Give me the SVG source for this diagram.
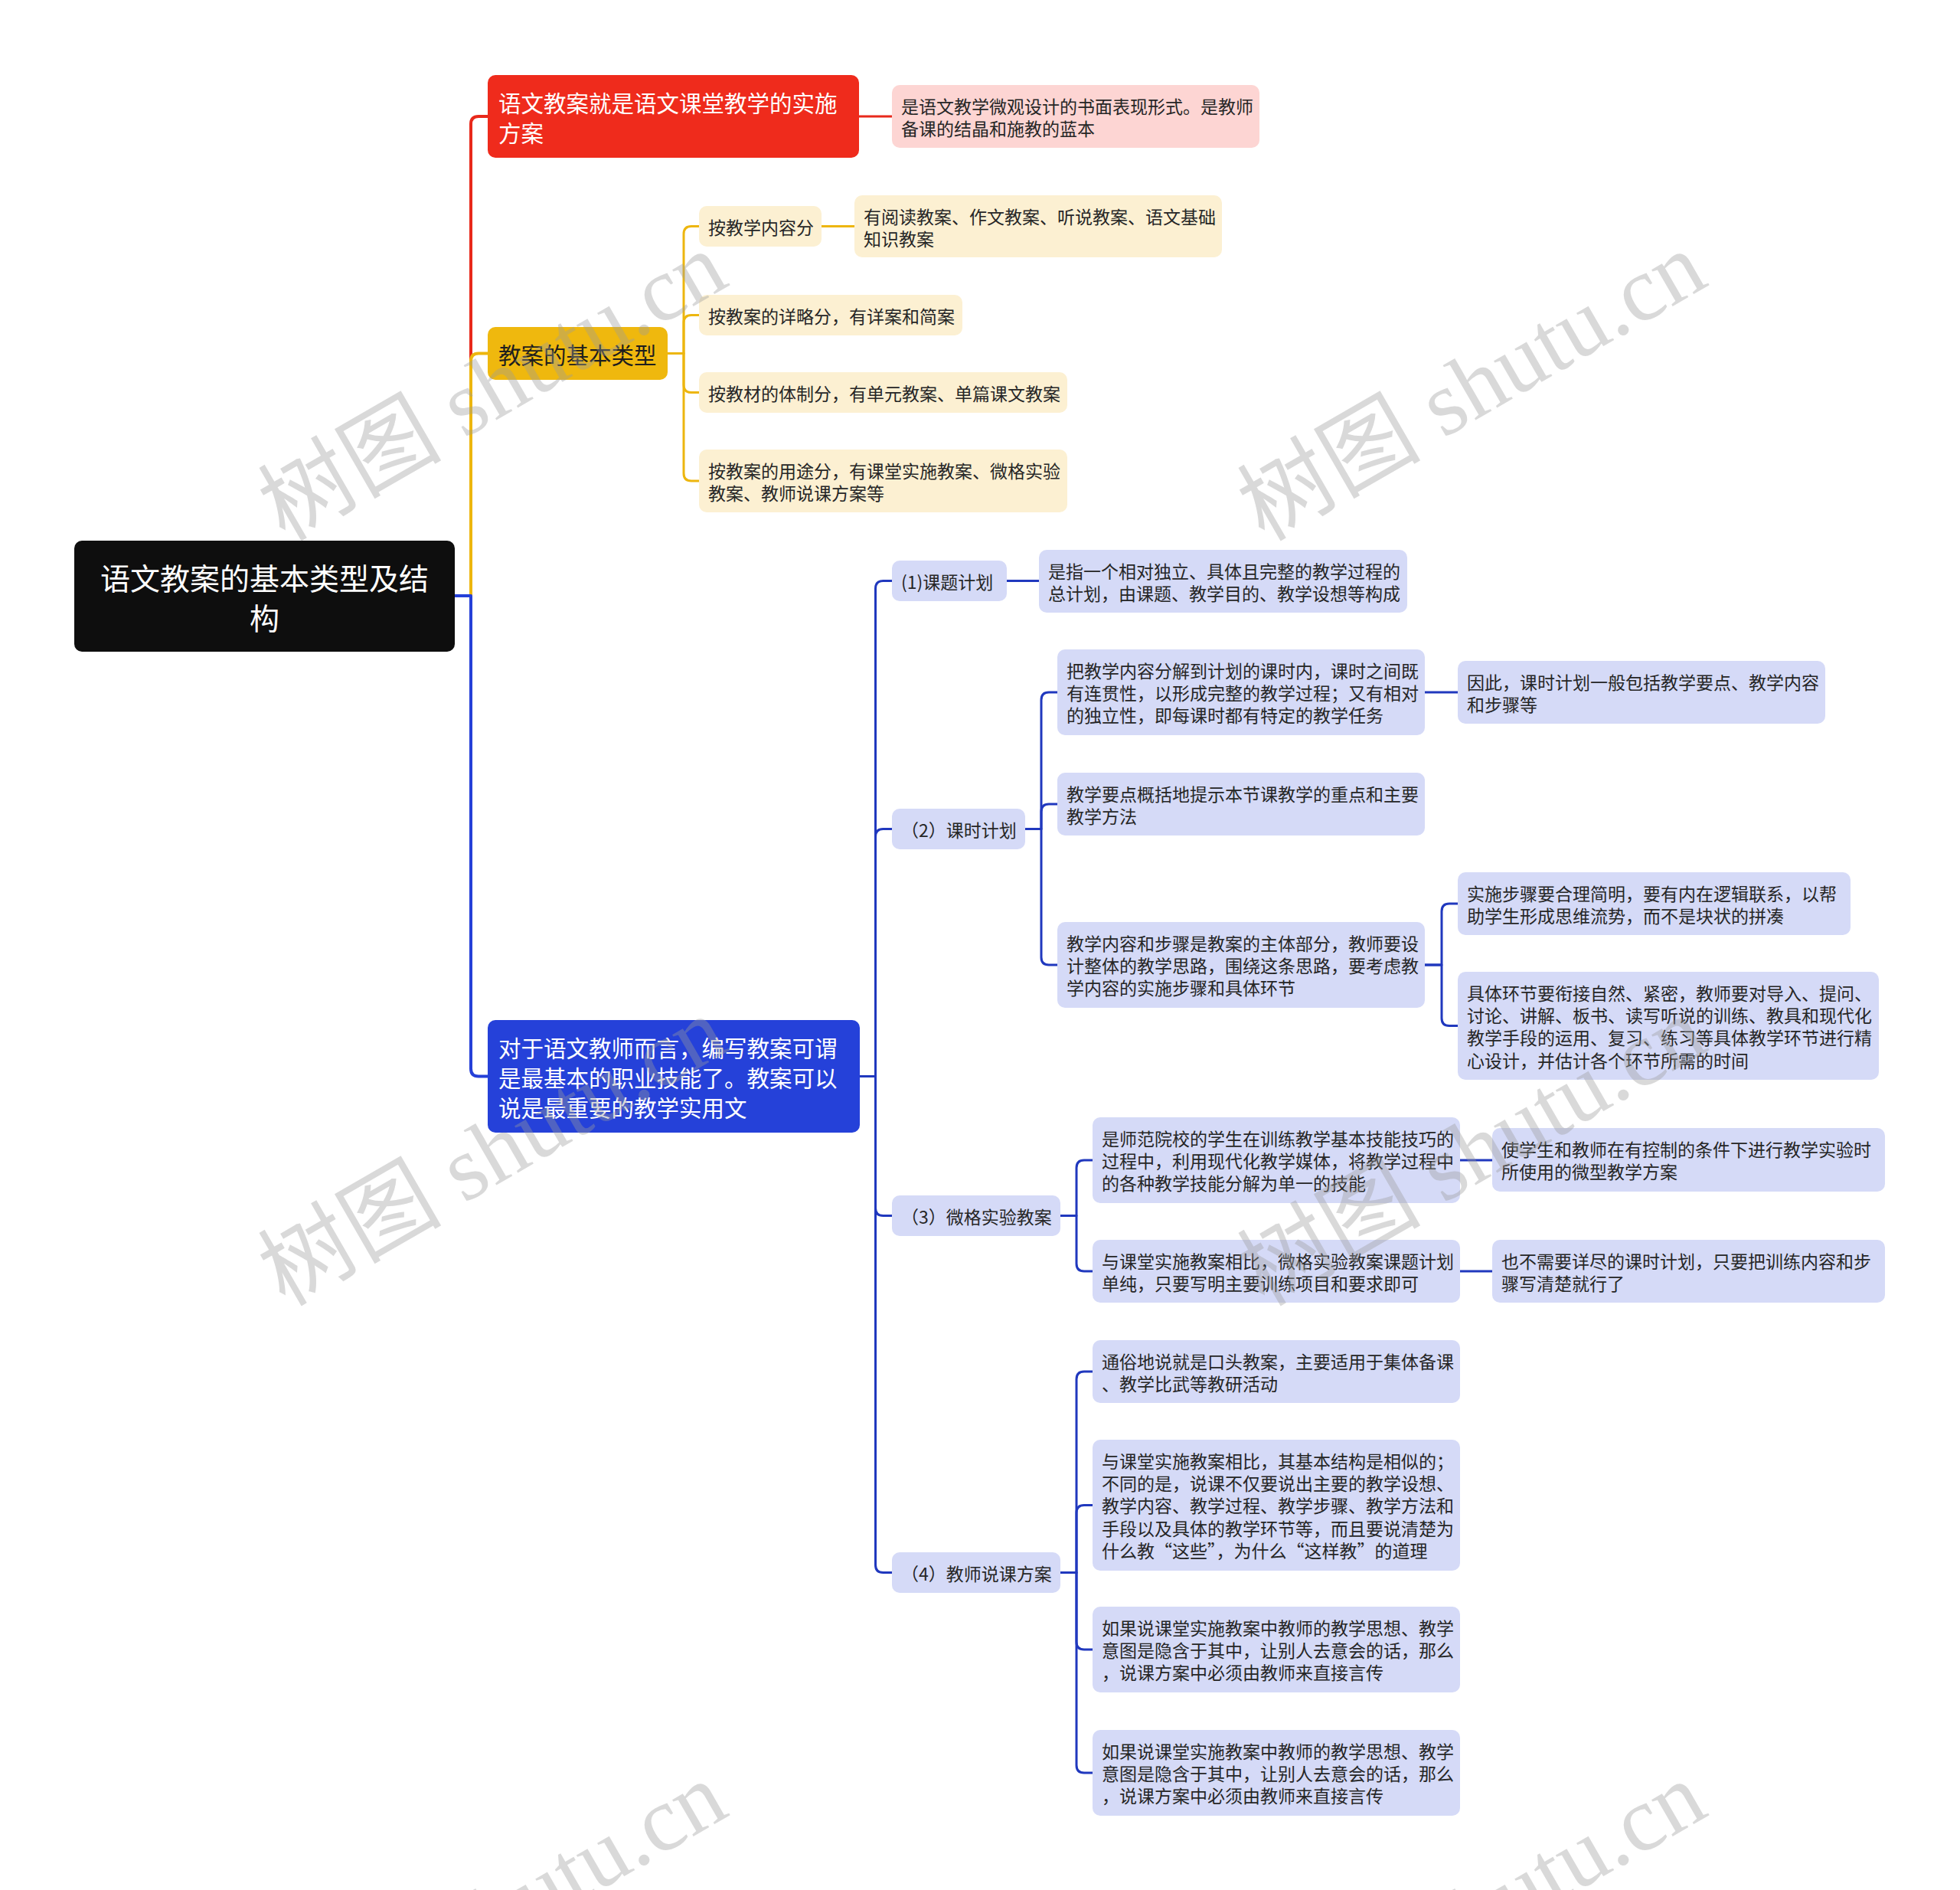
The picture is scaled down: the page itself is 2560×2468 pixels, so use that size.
<svg xmlns="http://www.w3.org/2000/svg" width="2560" height="2468" viewBox="0 0 2560 2468">
<style>
.t{font-family:"Noto Sans CJK SC","Noto Sans",sans-serif;font-size:23px;fill:#262626;dominant-baseline:central}
.t1{font-family:"Noto Sans CJK SC","Noto Sans",sans-serif;font-size:29.5px;dominant-baseline:central}
.w{fill:#ffffff}
.d{fill:#1e1e1e}
.root{font-family:"Noto Sans CJK SC","Noto Sans",sans-serif;font-size:39px;fill:#ffffff;text-anchor:middle;dominant-baseline:central}
.lb{fill:#D5DAF7}
.ly{fill:#FCF0D2}
.c{fill:none;stroke-linejoin:round}
.cr{stroke:#E8291B;stroke-width:4}
.cy{stroke:#EDB60E;stroke-width:3}
.cb{stroke:#2540D8;stroke-width:4}
.cb2{stroke:#2038BE;stroke-width:3}
.wm{font-family:"Liberation Serif","Noto Sans CJK SC",serif;font-size:120px;fill:#9a9a9a;fill-opacity:0.38}
</style>
<rect width="2560" height="2468" fill="#ffffff"/>
<g id="connectors">
<path class="c cr" d="M594,778 H615 V162 Q615,152 625,152 H637"/>
<path class="c cy" style="stroke-width:4" d="M594,778 H615 V471.5 Q615,461.5 625,461.5 H637"/>
<path class="c cb" d="M594,778 H615 V1395.5 Q615,1405.5 625,1405.5 H637"/>
<path class="c cr" style="stroke-width:3" d="M1122,152 H1165"/>
<path class="c cy" d="M872,461.5 H893 V305.5 Q893,295.5 903,295.5 H913"/>
<path class="c cy" d="M872,461.5 H893 V421.5 Q893,411.5 903,411.5 H913"/>
<path class="c cy" d="M872,461.5 H893 V502.5 Q893,512.5 903,512.5 H913"/>
<path class="c cy" d="M872,461.5 H893 V618 Q893,628 903,628 H913"/>
<path class="c cy" d="M1073,295.5 H1116"/>
<path class="c cb2" d="M1123,1405.5 H1143.5 V768.5 Q1143.5,758.5 1153.5,758.5 H1165"/>
<path class="c cb2" d="M1123,1405.5 H1143.5 V1092.5 Q1143.5,1082.5 1153.5,1082.5 H1165"/>
<path class="c cb2" d="M1123,1405.5 H1143.5 V1577.5 Q1143.5,1587.5 1153.5,1587.5 H1165"/>
<path class="c cb2" d="M1123,1405.5 H1143.5 V2043.5 Q1143.5,2053.5 1153.5,2053.5 H1165"/>
<path class="c cb2" d="M1315,758.5 H1357"/>
<path class="c cb2" d="M1339,1082.5 H1360 V914 Q1360,904 1370,904 H1381"/>
<path class="c cb2" d="M1339,1082.5 H1360 V1060 Q1360,1050 1370,1050 H1381"/>
<path class="c cb2" d="M1339,1082.5 H1360 V1250 Q1360,1260 1370,1260 H1381"/>
<path class="c cb2" d="M1861,904 H1904"/>
<path class="c cb2" d="M1861,1260 H1883 V1190 Q1883,1180 1893,1180 H1904"/>
<path class="c cb2" d="M1861,1260 H1883 V1329.5 Q1883,1339.5 1893,1339.5 H1904"/>
<path class="c cb2" d="M1385,1587.5 H1406 V1525 Q1406,1515 1416,1515 H1427"/>
<path class="c cb2" d="M1385,1587.5 H1406 V1650 Q1406,1660 1416,1660 H1427"/>
<path class="c cb2" d="M1907,1515 H1949"/>
<path class="c cb2" d="M1907,1660 H1949"/>
<path class="c cb2" d="M1385,2053.5 H1406 V1801 Q1406,1791 1416,1791 H1427"/>
<path class="c cb2" d="M1385,2053.5 H1406 V1975.5 Q1406,1965.5 1416,1965.5 H1427"/>
<path class="c cb2" d="M1385,2053.5 H1406 V2144 Q1406,2154 1416,2154 H1427"/>
<path class="c cb2" d="M1385,2053.5 H1406 V2305 Q1406,2315 1416,2315 H1427"/>
</g>
<g id="root">
<rect x="97" y="706" width="497" height="145" rx="10" fill="#0E0E0E"/>
<text class="root" x="345.5" y="752.5">语文教案的基本类型及结</text>
<text class="root" x="345.5" y="804.5">构</text>
</g>
<g id="n-red">
<rect x="637" y="98" width="485" height="108" rx="10" fill="#EF2B1C"/>
<text class="t1 w" x="651" y="132.5">语文教案就是语文课堂教学的实施</text>
<text class="t1 w" x="651" y="171.5">方案</text>
</g>
<g id="n-red-1">
<rect x="1165" y="111" width="480" height="82" rx="10" fill="#FDD5D3"/>
<text class="t" x="1177" y="137.5">是语文教学微观设计的书面表现形式。是教师</text>
<text class="t" x="1177" y="166.9">备课的结晶和施教的蓝本</text>
</g>
<g id="n-yellow">
<rect x="637" y="427" width="235" height="69" rx="10" fill="#EFB80E"/>
<text class="t1 d" x="651" y="461.5">教案的基本类型</text>
</g>
<g id="n-y1">
<rect class="ly" x="913" y="269" width="160" height="53" rx="10"/>
<text class="t" x="925" y="295.5">按教学内容分</text>
</g>
<g id="n-y1-1">
<rect class="ly" x="1116" y="255" width="480" height="81" rx="10"/>
<text class="t" x="1128" y="281.5">有阅读教案、作文教案、听说教案、语文基础</text>
<text class="t" x="1128" y="310.9">知识教案</text>
</g>
<g id="n-y2">
<rect class="ly" x="913" y="385" width="344" height="53" rx="10"/>
<text class="t" x="925" y="411.5">按教案的详略分，有详案和简案</text>
</g>
<g id="n-y3">
<rect class="ly" x="913" y="486" width="481" height="53" rx="10"/>
<text class="t" x="925" y="512.5">按教材的体制分，有单元教案、单篇课文教案</text>
</g>
<g id="n-y4">
<rect class="ly" x="913" y="587" width="481" height="82" rx="10"/>
<text class="t" x="925" y="613.5">按教案的用途分，有课堂实施教案、微格实验</text>
<text class="t" x="925" y="642.9">教案、教师说课方案等</text>
</g>
<g id="n-blue">
<rect x="637" y="1332" width="486" height="147" rx="10" fill="#2541D9"/>
<text class="t1 w" x="651" y="1366.5">对于语文教师而言，编写教案可谓</text>
<text class="t1 w" x="651" y="1405.5">是最基本的职业技能了。教案可以</text>
<text class="t1 w" x="651" y="1444.5">说是最重要的教学实用文</text>
</g>
<g id="n-b1">
<rect class="lb" x="1165" y="732" width="150" height="53" rx="10"/>
<text class="t" x="1177" y="758.5">(1)课题计划</text>
</g>
<g id="n-b1-1">
<rect class="lb" x="1357" y="718" width="481" height="82" rx="10"/>
<text class="t" x="1369" y="744.5">是指一个相对独立、具体且完整的教学过程的</text>
<text class="t" x="1369" y="773.9">总计划，由课题、教学目的、教学设想等构成</text>
</g>
<g id="n-b2">
<rect class="lb" x="1165" y="1056" width="174" height="53" rx="10"/>
<text class="t" x="1177" y="1082.5">（2）课时计划</text>
</g>
<g id="n-b2-a">
<rect class="lb" x="1381" y="848" width="480" height="112" rx="10"/>
<text class="t" x="1393" y="874.5">把教学内容分解到计划的课时内，课时之间既</text>
<text class="t" x="1393" y="903.9">有连贯性，以形成完整的教学过程；又有相对</text>
<text class="t" x="1393" y="933.3">的独立性，即每课时都有特定的教学任务</text>
</g>
<g id="n-b2-a1">
<rect class="lb" x="1904" y="863" width="480" height="82" rx="10"/>
<text class="t" x="1916" y="889.5">因此，课时计划一般包括教学要点、教学内容</text>
<text class="t" x="1916" y="918.9">和步骤等</text>
</g>
<g id="n-b2-b">
<rect class="lb" x="1381" y="1009" width="480" height="82" rx="10"/>
<text class="t" x="1393" y="1035.5">教学要点概括地提示本节课教学的重点和主要</text>
<text class="t" x="1393" y="1064.9">教学方法</text>
</g>
<g id="n-b2-c">
<rect class="lb" x="1381" y="1204" width="480" height="112" rx="10"/>
<text class="t" x="1393" y="1230.5">教学内容和步骤是教案的主体部分，教师要设</text>
<text class="t" x="1393" y="1259.9">计整体的教学思路，围绕这条思路，要考虑教</text>
<text class="t" x="1393" y="1289.3">学内容的实施步骤和具体环节</text>
</g>
<g id="n-b2-c1">
<rect class="lb" x="1904" y="1139" width="513" height="82" rx="10"/>
<text class="t" x="1916" y="1165.5">实施步骤要合理简明，要有内在逻辑联系，以帮</text>
<text class="t" x="1916" y="1194.9">助学生形成思维流势，而不是块状的拼凑</text>
</g>
<g id="n-b2-c2">
<rect class="lb" x="1904" y="1269" width="550" height="141" rx="10"/>
<text class="t" x="1916" y="1295.5">具体环节要衔接自然、紧密，教师要对导入、提问、</text>
<text class="t" x="1916" y="1324.9">讨论、讲解、板书、读写听说的训练、教具和现代化</text>
<text class="t" x="1916" y="1354.3">教学手段的运用、复习、练习等具体教学环节进行精</text>
<text class="t" x="1916" y="1383.7">心设计，并估计各个环节所需的时间</text>
</g>
<g id="n-b3">
<rect class="lb" x="1165" y="1561" width="220" height="53" rx="10"/>
<text class="t" x="1177" y="1587.5">（3）微格实验教案</text>
</g>
<g id="n-b3-d1">
<rect class="lb" x="1427" y="1459" width="480" height="112" rx="10"/>
<text class="t" x="1439" y="1485.5">是师范院校的学生在训练教学基本技能技巧的</text>
<text class="t" x="1439" y="1514.9">过程中，利用现代化教学媒体，将教学过程中</text>
<text class="t" x="1439" y="1544.3">的各种教学技能分解为单一的技能</text>
</g>
<g id="n-b3-d1c">
<rect class="lb" x="1949" y="1473" width="513" height="83" rx="10"/>
<text class="t" x="1961" y="1500">使学生和教师在有控制的条件下进行教学实验时</text>
<text class="t" x="1961" y="1529.4">所使用的微型教学方案</text>
</g>
<g id="n-b3-d2">
<rect class="lb" x="1427" y="1619" width="480" height="82" rx="10"/>
<text class="t" x="1439" y="1645.5">与课堂实施教案相比，微格实验教案课题计划</text>
<text class="t" x="1439" y="1674.9">单纯，只要写明主要训练项目和要求即可</text>
</g>
<g id="n-b3-d2c">
<rect class="lb" x="1949" y="1619" width="513" height="82" rx="10"/>
<text class="t" x="1961" y="1645.5">也不需要详尽的课时计划，只要把训练内容和步</text>
<text class="t" x="1961" y="1674.9">骤写清楚就行了</text>
</g>
<g id="n-b4">
<rect class="lb" x="1165" y="2027" width="220" height="53" rx="10"/>
<text class="t" x="1177" y="2053.5">（4）教师说课方案</text>
</g>
<g id="n-b4-e1">
<rect class="lb" x="1427" y="1750" width="480" height="82" rx="10"/>
<text class="t" x="1439" y="1776.5">通俗地说就是口头教案，主要适用于集体备课</text>
<text class="t" x="1439" y="1805.9">、教学比武等教研活动</text>
</g>
<g id="n-b4-e2">
<rect class="lb" x="1427" y="1880" width="480" height="171" rx="10"/>
<text class="t" x="1439" y="1906.5">与课堂实施教案相比，其基本结构是相似的；</text>
<text class="t" x="1439" y="1935.9">不同的是，说课不仅要说出主要的教学设想、</text>
<text class="t" x="1439" y="1965.3">教学内容、教学过程、教学步骤、教学方法和</text>
<text class="t" x="1439" y="1994.7">手段以及具体的教学环节等，而且要说清楚为</text>
<text class="t" x="1439" y="2024.1">什么教“这些”，为什么“这样教”的道理</text>
</g>
<g id="n-b4-e3">
<rect class="lb" x="1427" y="2098" width="480" height="112" rx="10"/>
<text class="t" x="1439" y="2124.5">如果说课堂实施教案中教师的教学思想、教学</text>
<text class="t" x="1439" y="2153.9">意图是隐含于其中，让别人去意会的话，那么</text>
<text class="t" x="1439" y="2183.3">，说课方案中必须由教师来直接言传</text>
</g>
<g id="n-b4-e4">
<rect class="lb" x="1427" y="2259" width="480" height="112" rx="10"/>
<text class="t" x="1439" y="2285.5">如果说课堂实施教案中教师的教学思想、教学</text>
<text class="t" x="1439" y="2314.9">意图是隐含于其中，让别人去意会的话，那么</text>
<text class="t" x="1439" y="2344.3">，说课方案中必须由教师来直接言传</text>
</g>
<g id="watermarks">
<text class="wm" transform="translate(372,708) rotate(-30)">树图 shutu.cn</text>
<text class="wm" transform="translate(1651,708) rotate(-30)">树图 shutu.cn</text>
<text class="wm" transform="translate(372,1707) rotate(-30)">树图 shutu.cn</text>
<text class="wm" transform="translate(1651,1707) rotate(-30)">树图 shutu.cn</text>
<text class="wm" transform="translate(372,2706) rotate(-30)">树图 shutu.cn</text>
<text class="wm" transform="translate(1651,2706) rotate(-30)">树图 shutu.cn</text>
</g>
</svg>
